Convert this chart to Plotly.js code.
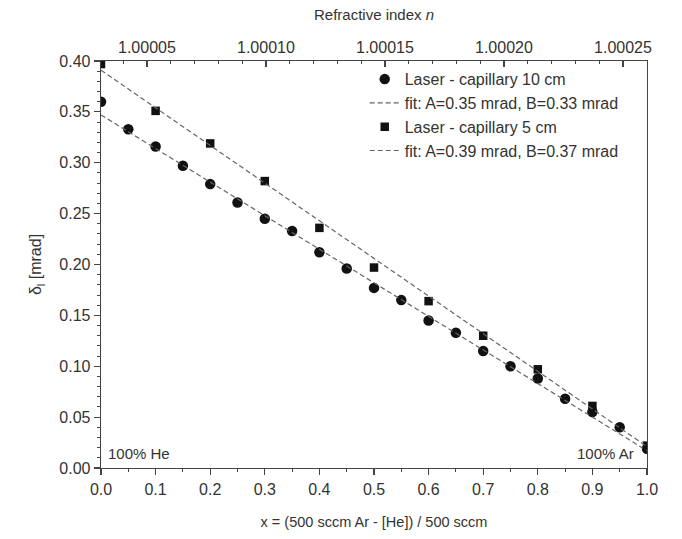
<!DOCTYPE html>
<html>
<head>
<meta charset="utf-8">
<script src="https://cdn.plot.ly/plotly-3.0.1.min.js"></script>
<style>
  html, body { margin: 0; padding: 0; background: #fff; }
  #chart { width: 682px; height: 539px; }
</style>
</head>
<body>
<div id="chart"></div>
<script>
// ---- data ----
const x10 = [0.00, 0.05, 0.10, 0.15, 0.20, 0.25, 0.30, 0.35, 0.40, 0.45, 0.50,
             0.55, 0.60, 0.65, 0.70, 0.75, 0.80, 0.85, 0.90, 0.95, 1.00];
const y10 = [0.360, 0.333, 0.316, 0.297, 0.279, 0.261, 0.245, 0.233, 0.212, 0.196, 0.177,
             0.165, 0.145, 0.133, 0.115, 0.100, 0.088, 0.068, 0.055, 0.040, 0.019];
const x5 = [0.0, 0.1, 0.2, 0.3, 0.4, 0.5, 0.6, 0.7, 0.8, 0.9, 1.0];
const y5 = [0.397, 0.351, 0.319, 0.282, 0.236, 0.197, 0.164, 0.130, 0.097, 0.061, 0.022];
const fitX = [0, 1];
const fit10 = [0.347, 0.017];
const fit5 = [0.391, 0.021];
const nRange = [1.0000307, 1.0002601];
const names = ["Laser - capillary 10 cm", "fit: A=0.35 mrad, B=0.33 mrad",
               "Laser - capillary 5 cm", "fit: A=0.39 mrad, B=0.37 mrad"];

const FONT = "Liberation Sans, Arial, sans-serif";
const TXT = "#333";
const AX = "#444";

const traces = [
  { x: x10, y: y10, name: names[0], mode: "markers", type: "scatter",
    marker: { symbol: "circle", size: 10.5, color: "#111" } },
  { x: fitX, y: fit10, name: names[1], mode: "lines", type: "scatter",
    line: { color: "#666", width: 1.2, dash: "5px,3px" } },
  { x: x5, y: y5, name: names[2], mode: "markers", type: "scatter",
    marker: { symbol: "square", size: 8.5, color: "#111" } },
  { x: fitX, y: fit5, name: names[3], mode: "lines", type: "scatter",
    line: { color: "#666", width: 1.2, dash: "5px,3px" } },
  // carrier so the top refractive-index axis is drawn (no visible marks)
  { x: nRange, y: [null, null], xaxis: "x2", yaxis: "y", mode: "lines", type: "scatter",
    showlegend: false, hoverinfo: "skip", line: { width: 0 } }
];

const layout = {
  width: 682, height: 539,
  margin: { l: 101, r: 35, t: 61, b: 71, pad: 0 },
  paper_bgcolor: "#fff", plot_bgcolor: "#fff",
  font: { family: FONT, size: 16, color: TXT },
  showlegend: true,
  legend: {
    x: 0.483, y: 0.997, xanchor: "left", yanchor: "top",
    bgcolor: "rgba(0,0,0,0)", font: { family: FONT, size: 16, color: TXT },
    tracegroupgap: 0
  },
  xaxis: {
    range: [0, 1], dtick: 0.1, tick0: 0, tickformat: ".1f",
    showgrid: false, zeroline: false,
    showline: true, linecolor: AX, linewidth: 1.3,
    ticks: "outside", ticklen: 6, tickwidth: 1.2, tickcolor: AX,
    minor: { dtick: 0.05, ticks: "outside", ticklen: 3, tickwidth: 1, tickcolor: AX },
    tickfont: { size: 16, color: TXT },
    title: { text: "x = (500 sccm Ar - [He]) / 500 sccm", font: { size: 14.5, color: TXT }, standoff: 20 }
  },
  xaxis2: {
    overlaying: "x", side: "top", anchor: "y",
    range: nRange, dtick: 0.00005, tick0: 1.00005, tickformat: ".5f",
    showgrid: false, zeroline: false,
    showline: true, linecolor: AX, linewidth: 1.3,
    ticks: "inside", ticklen: 6, tickwidth: 1.2, tickcolor: AX,
    minor: { dtick: 0.00001, tick0: 1.00005, ticks: "inside", ticklen: 3, tickwidth: 1, tickcolor: AX },
    tickfont: { size: 16, color: TXT },
    title: { text: "Refractive index <i>n</i>", font: { size: 15, color: TXT }, standoff: 15 }
  },
  yaxis: {
    range: [0, 0.40], dtick: 0.05, tick0: 0, tickformat: ".2f",
    showgrid: false, zeroline: false,
    showline: true, mirror: true, linecolor: AX, linewidth: 1.3,
    ticks: "outside", ticklen: 6, tickwidth: 1.2, tickcolor: AX,
    minor: { dtick: 0.01, ticks: "outside", ticklen: 3, tickwidth: 1, tickcolor: AX },
    tickfont: { size: 16, color: TXT },
    title: { text: "δ<sub>l</sub> [mrad]", font: { size: 16, color: TXT }, standoff: 13 }
  },
  annotations: [
    { xref: "x", yref: "y", x: 0.01, y: 0.004, xanchor: "left", yanchor: "bottom",
      text: "100% He", showarrow: false, font: { size: 15, color: TXT } },
    { xref: "x", yref: "y", x: 0.98, y: 0.004, xanchor: "right", yanchor: "bottom",
      text: "100% Ar", showarrow: false, font: { size: 15, color: TXT } }
  ]
};

Plotly.newPlot("chart", traces, layout, { displayModeBar: false, staticPlot: true });
</script>
</body>
</html>
